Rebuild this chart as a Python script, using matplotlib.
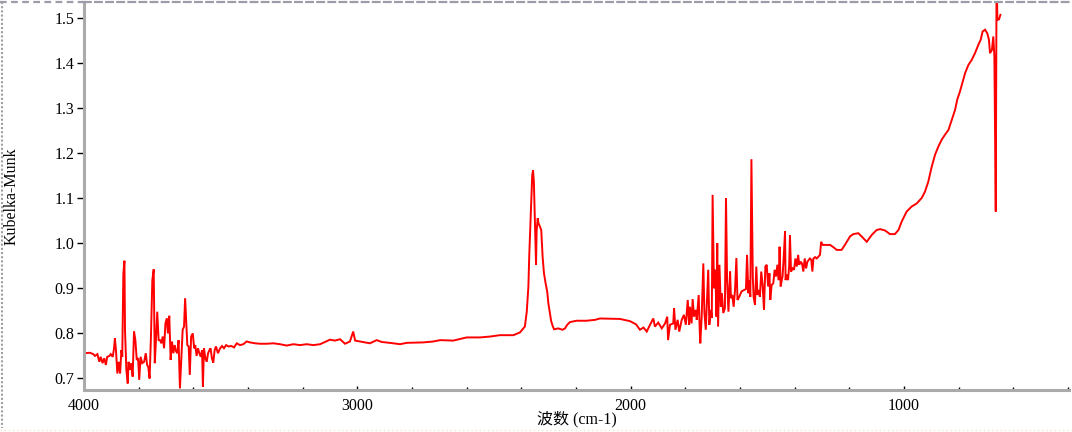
import matplotlib
matplotlib.use("Agg")
import matplotlib.pyplot as plt
from matplotlib.ticker import MultipleLocator, FixedLocator
from matplotlib.lines import Line2D

# ---------------- data ----------------
wavenumber = [
    4000, 3978, 3966, 3960, 3951, 3944, 3939, 3932, 3926, 3920, 3915, 3907, 3902, 3895,
    3890, 3887, 3883, 3878, 3873, 3868, 3863, 3860, 3856, 3852, 3850, 3845, 3840, 3837,
    3832, 3827, 3822, 3817, 3812, 3807, 3802, 3798, 3793, 3787, 3780, 3774, 3769, 3765,
    3760, 3755, 3750, 3745, 3741, 3737, 3732, 3727, 3722, 3717, 3712, 3707, 3702, 3697,
    3693, 3688, 3683, 3678, 3673, 3668, 3663, 3658, 3654, 3649, 3644, 3639, 3634, 3630,
    3627, 3622, 3617, 3613, 3608, 3602, 3597, 3593, 3588, 3583, 3578, 3573, 3568, 3565,
    3561, 3556, 3551, 3546, 3541, 3537, 3532, 3527, 3522, 3517, 3510, 3502, 3495, 3488,
    3480, 3471, 3461, 3451, 3441, 3429, 3417, 3405, 3393, 3374, 3356, 3332, 3307, 3283,
    3258, 3234, 3210, 3185, 3161, 3136,
    3118, 3100, 3082, 3063, 3045, 3027, 3015, 3008, 2990, 2954, 2929, 2911, 2868, 2844,
    2819, 2758, 2722, 2697, 2649, 2600, 2551, 2514, 2478,
    2429, 2405, 2387, 2380, 2374, 2371, 2367, 2363, 2360, 2357, 2354, 2350, 2346, 2344,
    2340, 2337, 2332, 2327, 2322, 2317, 2311, 2305, 2301, 2296, 2291, 2285, 2280, 2265,
    2249, 2240, 2232, 2222, 2198, 2161, 2130, 2112,
    2039, 2002, 1980,
    1966, 1953, 1941, 1929, 1917, 1911, 1899, 1886, 1874, 1866, 1863, 1856, 1844, 1841,
    1836, 1828, 1822, 1813, 1805, 1798, 1791, 1786, 1783, 1777, 1773, 1768, 1762, 1758,
    1751, 1747, 1745, 1740, 1734, 1730, 1725, 1719, 1716, 1712, 1707, 1703, 1700, 1695,
    1690, 1686, 1683, 1680, 1675, 1670, 1666, 1661, 1655, 1651, 1647, 1642, 1636, 1633,
    1628, 1623, 1618, 1613, 1609, 1605, 1600, 1594, 1585, 1578, 1574, 1569, 1566, 1562,
    1558, 1556, 1553, 1550, 1545, 1540, 1536, 1531, 1527, 1522, 1517, 1512, 1507, 1502,
    1497, 1492, 1489, 1484, 1478, 1473, 1468, 1463, 1458, 1455, 1451, 1447, 1444, 1439,
    1435, 1433, 1429, 1424, 1420, 1417, 1413, 1407, 1402, 1397, 1392, 1387, 1383, 1378,
    1373, 1368, 1363, 1358, 1353, 1348, 1344, 1339, 1335, 1331, 1325, 1319, 1313, 1307,
    1303, 1297,
    1289, 1270, 1258, 1246, 1228, 1216, 1197, 1185, 1167, 1155, 1136, 1118, 1100, 1087,
    1069, 1051, 1033, 1020, 1008, 990, 972, 953, 935, 923, 911, 898, 886, 874, 862, 850,
    837, 825, 813, 805, 795, 785, 776, 764, 752, 740, 728, 719, 712, 703, 695, 689, 685,
    678, 673, 669, 664, 661, 658, 652, 647,
]

kubelka_munk = [
    0.756, 0.757, 0.754, 0.750, 0.754, 0.737, 0.748, 0.734, 0.745, 0.730, 0.748, 0.750, 0.754, 0.748,
    0.767, 0.789, 0.763, 0.711, 0.737, 0.711, 0.763, 0.748, 0.933, 0.961, 0.808, 0.719, 0.689, 0.737,
    0.719, 0.734, 0.704, 0.804, 0.785, 0.741, 0.745, 0.697, 0.748, 0.734, 0.737, 0.756, 0.730, 0.726,
    0.700, 0.794, 0.918, 0.942, 0.734, 0.782, 0.848, 0.785, 0.785, 0.778, 0.793, 0.767, 0.822, 0.833,
    0.800, 0.839, 0.741, 0.782, 0.756, 0.774, 0.760, 0.756, 0.785, 0.678, 0.741, 0.808, 0.815, 0.878,
    0.837, 0.774, 0.771, 0.708, 0.793, 0.800, 0.767, 0.774, 0.750, 0.767, 0.756, 0.748, 0.763, 0.682,
    0.767, 0.745, 0.737, 0.756, 0.763, 0.767, 0.745, 0.735, 0.763, 0.771, 0.756, 0.767, 0.772, 0.767,
    0.774, 0.771, 0.772, 0.769, 0.778, 0.774, 0.776, 0.782, 0.780, 0.778, 0.777, 0.777, 0.778, 0.776,
    0.773, 0.776, 0.774, 0.776, 0.774, 0.776,
    0.781, 0.786, 0.784, 0.787, 0.777, 0.782, 0.804, 0.784, 0.782, 0.778, 0.785, 0.781, 0.778, 0.776,
    0.779, 0.780, 0.782, 0.785, 0.784, 0.791, 0.791, 0.793, 0.796,
    0.796, 0.802, 0.815, 0.848, 0.904, 0.970, 1.037, 1.103, 1.151, 1.161, 1.136, 1.048, 0.952, 1.026,
    1.055, 1.044, 1.037, 1.029, 0.970, 0.933, 0.911, 0.892, 0.867, 0.848, 0.828, 0.816, 0.809, 0.811,
    0.808, 0.811, 0.819, 0.825, 0.828, 0.828, 0.830, 0.833,
    0.832, 0.827, 0.820,
    0.808, 0.813, 0.804, 0.819, 0.833, 0.815, 0.824, 0.811, 0.822, 0.837, 0.785, 0.819, 0.822, 0.856,
    0.808, 0.830, 0.804, 0.830, 0.841, 0.819, 0.874, 0.819, 0.859, 0.822, 0.876, 0.837, 0.852, 0.830,
    0.885, 0.804, 0.778, 0.837, 0.955, 0.845, 0.808, 0.893, 0.941, 0.819, 0.852, 0.834, 1.107, 0.900,
    0.941, 0.837, 1.000, 0.815, 0.952, 0.859, 0.889, 0.845, 0.856, 1.100, 0.918, 0.848, 0.937, 0.878,
    0.885, 0.859, 0.896, 0.967, 0.874, 0.878, 0.885, 0.893, 0.896, 0.898, 0.974, 0.889, 0.918, 0.881,
    1.186, 1.085, 0.926, 0.881, 0.863, 0.948, 0.885, 0.896, 0.881, 0.937, 0.907, 0.852, 0.948, 0.952,
    0.904, 0.933, 0.874, 0.907, 0.911, 0.941, 0.926, 0.952, 0.918, 0.992, 0.904, 0.918, 0.926, 0.978,
    1.026, 0.918, 0.930, 0.918, 0.948, 1.018, 0.937, 0.944, 0.941, 0.966, 0.948, 0.974, 0.952, 0.959,
    0.955, 0.937, 0.966, 0.944, 0.959, 0.963, 0.966, 0.963, 0.937, 0.966, 0.969, 0.966, 0.970, 0.974,
    1.003, 0.996,
    0.996, 0.996, 0.991, 0.985, 0.985, 0.996, 1.015, 1.020, 1.022, 1.015, 1.003, 1.018, 1.029, 1.031,
    1.028, 1.020, 1.020, 1.029, 1.048, 1.070, 1.081, 1.088, 1.100, 1.114, 1.136, 1.170, 1.196, 1.214,
    1.229, 1.240, 1.251, 1.273, 1.295, 1.318, 1.336, 1.358, 1.377, 1.395, 1.406, 1.421, 1.439, 1.451,
    1.469, 1.473, 1.465, 1.451, 1.421, 1.428, 1.458, 1.414, 1.070, 1.600, 1.495, 1.496, 1.506,
]

x_major_ticks = [4000, 3000, 2000, 1000]
y_major_ticks = [0.7, 0.8, 0.9, 1.0, 1.1, 1.2, 1.3, 1.4, 1.5]
x_label = "波数 (cm-1)"
y_label = "Kubelka-Munk"

# ---------------- figure ----------------
plt.rcParams['font.family'] = ['Liberation Serif', 'Noto Sans CJK SC', 'DejaVu Sans']

W, H = 1072, 432
fig = plt.figure(figsize=(W / 100, H / 100), dpi=100)
ax = fig.add_axes([84 / W, 1 - 390 / H, (1069 - 84) / W, (390 - 2) / H])

ax.plot(wavenumber, kubelka_munk, color='#ff0000', lw=1.4, solid_joinstyle='miter')

ax.set_xlim(4000, 396)
ax.set_ylim(0.6745, 1.5344)

ax.xaxis.set_major_locator(FixedLocator(x_major_ticks))
ax.xaxis.set_minor_locator(MultipleLocator(200))
ax.yaxis.set_major_locator(FixedLocator(y_major_ticks))
ax.yaxis.set_minor_locator(MultipleLocator(0.02))
ax.set_yticklabels([f"{v:.1f}" for v in y_major_ticks])
ax.set_xticklabels([str(v) for v in x_major_ticks])

ax.tick_params(axis='x', which='major', direction='in', length=3, width=1,
               color='black', labelsize=11.5, pad=6)
ax.tick_params(axis='x', which='minor', direction='in', length=2, width=1, color='black')
ax.tick_params(axis='y', which='major', direction='out', length=5, width=1,
               color='black', labelsize=11.5, pad=2)
ax.tick_params(axis='y', which='minor', direction='inout', length=2, width=1, color='black')

for side in ['left', 'bottom', 'top']:
    ax.spines[side].set_color('#aaaaaa')
    ax.spines[side].set_linewidth(2.2)
ax.spines['top'].set_color('#9c9cab')
ax.spines['top'].set_linewidth(1.6)
ax.spines['top'].set_linestyle((0, (3, 2)))
ax.spines['right'].set_visible(False)

ax.set_xlabel(x_label, fontsize=11.5, va='center')
ax.xaxis.set_label_coords(0.5, (390 - 419) / 388)
ax.set_ylabel(y_label, fontsize=11.5, va='center')
ax.yaxis.set_label_coords((12 - 84) / 985, 0.5)

# outer frame decorations of the window
fig.add_artist(Line2D([2 / W, 2 / W], [1 - 2 / H, 1 - 428 / H], transform=fig.transFigure,
                      color='#a0a0a0', lw=1.5, linestyle=(0, (1, 1))))
fig.add_artist(Line2D([0, 84 / W], [1 - 2 / H, 1 - 2 / H], transform=fig.transFigure,
                      color='#9c9cab', lw=1.6, linestyle=(0, (3, 2))))
fig.add_artist(Line2D([0, 1], [1 - 430 / H, 1 - 430 / H], transform=fig.transFigure,
                      color='#f0e6c8', lw=1.0, linestyle=(0, (1, 2))))

fig.savefig("out.png", dpi=100)
